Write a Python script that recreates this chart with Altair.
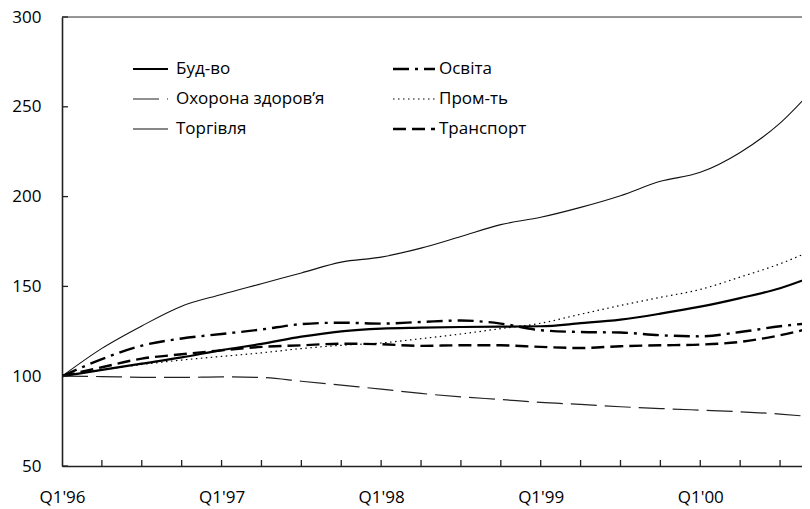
import json
import altair as alt
import pandas as pd

# ---------------- data ----------------
quarters = ["Q1'96", "Q2'96", "Q3'96", "Q4'96",
            "Q1'97", "Q2'97", "Q3'97", "Q4'97",
            "Q1'98", "Q2'98", "Q3'98", "Q4'98",
            "Q1'99", "Q2'99", "Q3'99", "Q4'99",
            "Q1'00", "Q2'00", "Q3'00", "Q4'00"]
x_tick_labels = ["Q1'96", "Q1'97", "Q1'98", "Q1'99", "Q1'00"]
y_ticks = [50, 100, 150, 200, 250, 300]

series_names = ["Буд-во", "Охорона здоров’я", "Торгівля", "Освіта", "Пром-ть", "Транспорт"]

bud = [100, 103.5, 107, 110.5, 114.5, 118, 122, 125, 126.5, 127, 127.4, 127.6,
       127.8, 129.5, 131.5, 134.8, 138.7, 143.5, 149, 157]
okhorona = [100, 99.8, 99.4, 99.3, 99.6, 99.3, 97.2, 95, 92.8, 90.4, 88.5, 87,
            85.4, 84.3, 83, 82, 81.1, 80.2, 78.9, 77]
torgivlia = [100, 115.5, 128, 139, 145.5, 151.5, 157.5, 163.5, 166.3, 171.3, 177.8, 184.4,
             188.5, 194, 200.5, 208.5, 213.5, 224.6, 240.9, 264]
osvita = [100, 109.5, 117, 121, 123.5, 126, 129, 129.8, 129.3, 130.2, 131, 129.3,
          125.6, 124.6, 124.3, 122.8, 122.2, 124.6, 127.8, 130]
prom = [100, 103.5, 106.5, 109, 111, 113, 115.4, 117.2, 118.5, 120.9, 123.5, 126.5,
        129.5, 134.5, 139.4, 143.9, 148.3, 155.2, 162.6, 172]
transport = [100, 105, 109.8, 112.2, 114.4, 116.3, 117.2, 118.1, 117.8, 116.9, 117.2, 117.2,
             116.3, 115.7, 116.7, 117.2, 117.6, 119.1, 122.8, 128]

series_values = [bud, okhorona, torgivlia, osvita, prom, transport]

# ---------------- style ----------------
FONT = "Open Sans"
FS = 17
W, H = 740, 449
X_MAX = 18.55

styles = [
    dict(color="#000000", strokeWidth=2.2),
    dict(color="#222222", strokeWidth=1.2, strokeDash=[26, 8]),
    dict(color="#111111", strokeWidth=1.1),
    dict(color="#000000", strokeWidth=2.4, strokeDash=[16, 6, 3, 6]),
    dict(color="#000000", strokeWidth=1.2, strokeDash=[1.5, 3.5]),
    dict(color="#000000", strokeWidth=2.4, strokeDash=[13, 6]),
]
# legend slots (sample start, sample end, text x) and row y, in plot-area pixels
legend_cols = [(71, 106, 114), (331, 373, 377)]
legend_rows = [52, 82, 112]

xscale = alt.Scale(domain=[0, X_MAX], nice=False, zero=False)
yscale = alt.Scale(domain=[50, 300], nice=False, zero=False)

label_expr = json.dumps(x_tick_labels) + "[round(datum.value / 4)]"
xaxis = alt.Axis(values=[0, 4, 8, 12, 16], labelExpr=label_expr, title=None, grid=False,
                 ticks=False, labelPadding=23, labelFontSize=FS, labelColor="#000",
                 labelFont=FONT, labelFlush=False, labelOverlap=False,
                 domainColor="#222", domainWidth=1.6)
yaxis = alt.Axis(values=y_ticks, title=None, grid=False, ticks=False, labelPadding=21,
                 labelFontSize=FS, labelColor="#000", labelFont=FONT, labelFlush=False,
                 domainColor="#222", domainWidth=1.6)

layers = []

# top frame line
layers.append(
    alt.Chart(pd.DataFrame({"k": [0]})).mark_rule(color="#777", strokeWidth=1.5)
    .encode(x=alt.value(0), x2=alt.value(W), y=alt.value(0))
)

idx = list(range(len(quarters)))
for i, (name, vals) in enumerate(zip(series_names, series_values)):
    df = pd.DataFrame({"q": idx, "v": vals, "s": name, "quarter": quarters})
    st = styles[i]
    layers.append(
        alt.Chart(df).mark_line(clip=True, interpolate="monotone", **st)
        .encode(x=alt.X("q:Q", scale=xscale, axis=xaxis),
                y=alt.Y("v:Q", scale=yscale, axis=yaxis))
    )
    col = legend_cols[i // 3]
    row = legend_rows[i % 3]
    ldf = pd.DataFrame({"s": [name]})
    layers.append(
        alt.Chart(ldf).mark_rule(**st)
        .encode(x=alt.value(col[0]), x2=alt.value(col[1]), y=alt.value(row))
    )
    layers.append(
        alt.Chart(ldf).mark_text(align="left", baseline="middle", font=FONT, fontSize=FS,
                                 color="#000")
        .encode(x=alt.value(col[2]), y=alt.value(row), text="s:N")
    )

# inward ticks
xt = pd.DataFrame({"q": [i for i in idx if 0 < i <= X_MAX]})
layers.append(
    alt.Chart(xt).mark_rule(color="#222", strokeWidth=1.3)
    .encode(x=alt.X("q:Q", scale=xscale, axis=xaxis), y=alt.value(H), y2=alt.value(H - 6))
)
yt = pd.DataFrame({"v": y_ticks})
layers.append(
    alt.Chart(yt).mark_rule(color="#222", strokeWidth=1.3)
    .encode(y=alt.Y("v:Q", scale=yscale, axis=yaxis), x=alt.value(0), x2=alt.value(6))
)

chart = (
    alt.layer(*layers)
    .properties(width=W, height=H,
                autosize=alt.AutoSizeParams(type="none"),
                padding={"left": 54, "top": 9, "right": 0, "bottom": 46})
    .configure_view(stroke=None)
    .configure(background="white")
)

chart.save("out.html", embed_options={"renderer": "svg", "actions": False})
